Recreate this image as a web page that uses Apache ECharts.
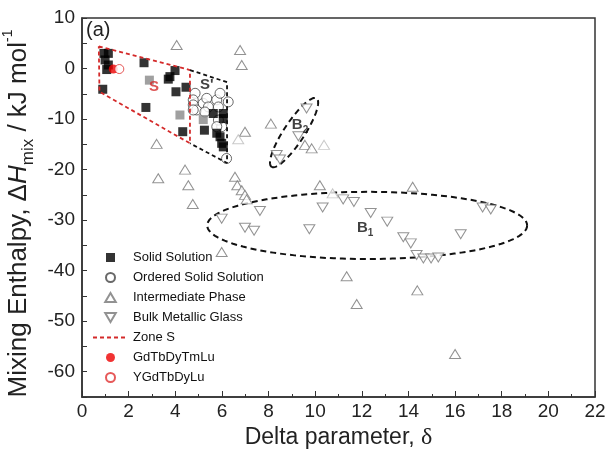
<!DOCTYPE html>
<html>
<head>
<meta charset="utf-8">
<script src="https://cdn.jsdelivr.net/npm/echarts@6/dist/echarts.min.js"></script>
<style>
  html, body { margin: 0; padding: 0; background: #fff; }
  #chart { width: 607px; height: 456px; }
</style>
</head>
<body>
<div id="chart"></div>
<script>
// ---- data (delta parameter, mixing enthalpy in kJ/mol) ----
const solidSolution = [
  [0.94, 3.0], [1.13, 3.0], [0.99, 1.7], [1.13, 0.7], [1.06, -0.2], [0.89, -4.1],
  [2.66, 1.15], [2.74, -7.7], [3.77, -1.6], [3.99, -0.4], [3.70, -2.1], [4.03, -4.6],
  [4.46, -3.7], [4.32, -12.5], [5.25, -12.2], [5.63, -8.9], [6.06, -8.9], [6.06, -9.9],
  [5.78, -12.8], [5.92, -13.5], [5.99, -14.8], [6.06, -15.5]
];
const solidSolutionGrey = [[2.89, -2.3], [4.2, -9.2], [5.2, -10.1]];
const orderedSolidSolution = [
  [4.85, -4.9], [4.77, -6.2], [4.77, -7.2], [4.92, -8.2], [5.2, -6.9], [5.35, -5.9],
  [5.42, -7.6], [5.27, -8.6], [5.78, -6.2], [5.92, -4.9], [5.85, -7.6], [6.27, -6.6],
  [5.99, -11.5], [6.2, -17.8], [4.77, -8.2], [5.85, -10.2], [5.78, -11.5]
];
const intermediatePhase = [
  [4.06, 4.65], [6.78, 3.66], [6.85, 0.7], [8.1, -10.9], [6.99, -12.5], [3.2, -14.9],
  [4.42, -20.0], [3.27, -21.7], [4.56, -23.1], [4.75, -26.8], [6.56, -21.4], [6.66, -23.1],
  [6.85, -24.1], [6.99, -25.0], [7.06, -25.9], [5.99, -36.3], [10.2, -23.1],
  [11.35, -41.1], [11.78, -46.6], [14.18, -23.4], [14.38, -43.9], [16.0, -56.5],
  [9.56, -15.1], [9.85, -15.8]
];
const intermediatePhaseLight = [[6.7, -14.0], [10.75, -24.7], [10.38, -15.1]];
const bulkMetallicGlass = [
  [5.99, -29.7], [7.63, -28.2], [6.99, -31.5], [7.38, -32.1], [9.63, -7.9], [9.28, -13.4],
  [8.35, -17.1], [8.49, -18.0], [10.32, -27.5], [11.2, -25.9], [11.66, -26.4],
  [12.38, -28.6], [9.75, -31.8], [13.09, -30.3], [13.78, -33.4], [14.1, -34.6],
  [14.35, -36.9], [14.64, -37.6], [14.97, -37.6], [15.28, -37.4], [16.24, -32.8],
  [17.18, -27.5], [17.53, -27.9]
];
const gdTbDyTmLu = [[1.34, -0.1]];
const yGdTbDyLu = [[1.6, -0.1]];

// zone outlines
const zoneS = [[0.72, 4.4], [4.63, -0.3], [4.63, -14.8], [0.75, -4.6], [0.72, 4.4]];
const zoneSPrime = [[4.63, -0.3], [6.22, -2.7], [6.22, -18.7], [4.63, -14.8]];
// ellipses: two ends of the long axis, short/long axis ratio (screen space)
const ellipses = [
  { end1: [5.37, -31.05], end2: [19.09, -31.05], ratio: 0.21 },
  { end1: [10.06, -5.9], end2: [8.13, -19.45], ratio: 0.25 }
];
const annotations = [
  { at: [3.09, -3.7], text: '{r|S}' },
  { at: [5.35, -3.3], text: "{k|S'}" },
  { at: [9.35, -11.2], text: '{k|B}{sub|2}' },
  { at: [12.14, -31.6], text: '{k|B}{sub|1}' }
];

const xTicks = { min: 0, max: 22, step: 2 };
const yTicks = { min: -65, max: 10, step: 5 };

const FONT = 'Liberation Sans, Arial, sans-serif';
const upTri = 'path://M5,0 L10,8.5 L0,8.5 Z';
const downTri = 'path://M0,0 L10,0 L5,8.5 Z';
const squareIcon = 'path://M0,0 L10,0 L10,10 L0,10 Z';

const chart = echarts.init(document.getElementById('chart'), null, { renderer: 'canvas' });

const openStyle = (stroke) => ({ color: '#fff', borderColor: stroke, borderWidth: 1 });

chart.setOption({
  animation: false,
  backgroundColor: '#fff',
  grid: {
    left: 82, right: 12, top: 18, bottom: 59,
    containLabel: false, outerBoundsMode: 'none',
    show: true, borderColor: '#333', borderWidth: 1.5
  },
  xAxis: {
    type: 'value', min: xTicks.min, max: xTicks.max, interval: xTicks.step,
    name: '{a|Delta parameter, }{d|δ}', nameLocation: 'middle', nameGap: 29,
    nameTextStyle: {
      rich: {
        a: { fontFamily: FONT, fontSize: 23, color: '#222' },
        d: { fontFamily: 'Liberation Serif, serif', fontSize: 24, color: '#222' }
      }
    },
    axisLine: { onZero: false, lineStyle: { color: '#333', width: 1.5 } },
    axisTick: { inside: true, length: 6, lineStyle: { color: '#333' } },
    minorTick: { show: true, splitNumber: 2, length: 3, lineStyle: { color: '#333' } },
    axisLabel: { fontFamily: FONT, fontSize: 19, color: '#222', margin: 5 },
    splitLine: { show: false }
  },
  yAxis: {
    type: 'value', min: yTicks.min, max: yTicks.max, interval: yTicks.step,
    name: '{a|Mixing Enthalpy, Δ}{i|H}{s|mix}{a| / kJ mol}{p|-1}',
    nameLocation: 'middle', nameGap: 42, nameRotate: 90,
    nameTextStyle: {
      padding: [0, 12, 0, 0],
      rich: {
        a: { fontFamily: FONT, fontSize: 26, color: '#222', lineHeight: 26 },
        i: { fontFamily: FONT, fontSize: 26, color: '#222', fontStyle: 'italic', lineHeight: 26 },
        s: { fontFamily: FONT, fontSize: 17, color: '#222', verticalAlign: 'bottom', lineHeight: 35 },
        p: { fontFamily: FONT, fontSize: 14, color: '#222', verticalAlign: 'top', lineHeight: 16 }
      }
    },
    axisLine: { onZero: false, lineStyle: { color: '#333', width: 1.5 } },
    axisTick: { inside: true, length: 5, lineStyle: { color: '#333' } },
    axisLabel: {
      fontFamily: FONT, fontSize: 19, color: '#222', margin: 7,
      formatter: (v) => (v % 10 === 0 ? String(v) : '')
    },
    splitLine: { show: false }
  },
  legend: {
    orient: 'vertical', left: 87, top: 246,
    itemWidth: 35, itemHeight: 9, itemGap: 7,
    textStyle: { fontFamily: FONT, fontSize: 13, color: '#111' },
    data: [
      { name: 'Solid Solution', icon: squareIcon },
      'Ordered Solid Solution', 'Intermediate Phase', 'Bulk Metallic Glass',
      { name: 'Zone S', itemStyle: { opacity: 0 } },
      'GdTbDyTmLu', 'YGdTbDyLu'
    ]
  },
  graphic: [
    { type: 'text', left: 86, top: 20, style: { text: '(a)', fontFamily: FONT, fontSize: 20, fill: '#222' } }
  ],
  series: [
    {
      type: 'custom', name: 'ellipses', silent: true,
      data: ellipses.map((e) => e.end1),
      renderItem: (params, api) => {
        const e = ellipses[params.dataIndex];
        const p1 = api.coord(e.end1), p2 = api.coord(e.end2);
        const cx = (p1[0] + p2[0]) / 2, cy = (p1[1] + p2[1]) / 2;
        const dx = (p2[0] - p1[0]) / 2, dy = (p2[1] - p1[1]) / 2;
        const a = Math.hypot(dx, dy), b = a * e.ratio;
        const ux = dx / a, uy = dy / a;
        const pts = [];
        for (let i = 0; i <= 120; i++) {
          const t = (i / 120) * Math.PI * 2;
          const c = Math.cos(t) * a, s = Math.sin(t) * b;
          pts.push([cx + c * ux - s * uy, cy + c * uy + s * ux]);
        }
        return { type: 'polyline', shape: { points: pts },
                 style: { stroke: '#111', lineWidth: 2, lineDash: [6, 4], fill: null } };
      }
    },
    {
      type: 'line', name: 'Zone S', data: zoneS, symbol: 'none',
      lineStyle: { color: '#d42a2a', width: 1.8, type: [4, 3] }, itemStyle: { color: '#d42a2a' }
    },
    {
      type: 'line', name: "S'", data: zoneSPrime, symbol: 'none',
      lineStyle: { color: '#111', width: 1.8, type: [4, 3] }
    },
    {
      type: 'scatter', name: 'Intermediate Phase', symbol: upTri, symbolSize: [11, 9],
      itemStyle: openStyle('#777'),
      data: intermediatePhase.concat(intermediatePhaseLight.map((p) => ({
        value: p, itemStyle: openStyle('#bbb') })))
    },
    {
      type: 'scatter', name: 'Bulk Metallic Glass', symbol: downTri, symbolSize: [11, 9],
      itemStyle: openStyle('#777'), data: bulkMetallicGlass
    },
    {
      type: 'scatter', name: 'Ordered Solid Solution', symbol: 'circle', symbolSize: 10,
      itemStyle: openStyle('#444'), data: orderedSolidSolution
    },
    {
      type: 'scatter', name: 'Solid Solution', symbol: 'rect', symbolSize: 9,
      itemStyle: { color: '#000' },
      data: solidSolution.concat(solidSolutionGrey.map((p) => ({
        value: p, itemStyle: { color: '#888' } })))
    },
    {
      type: 'scatter', name: 'GdTbDyTmLu', symbol: 'circle', symbolSize: 9,
      itemStyle: { color: '#e00' }, data: gdTbDyTmLu
    },
    {
      type: 'scatter', name: 'YGdTbDyLu', symbol: 'circle', symbolSize: 9,
      itemStyle: openStyle('#e03030'), data: yGdTbDyLu
    },
    {
      type: 'scatter', name: 'labels', silent: true, symbolSize: 0,
      data: annotations.map((a) => ({ value: a.at, label: { formatter: a.text } })),
      label: {
        show: true, position: 'inside',
        rich: {
          r: { fontFamily: FONT, fontSize: 15, fontWeight: 'bold', color: '#d42a2a' },
          k: { fontFamily: FONT, fontSize: 15, fontWeight: 'bold', color: '#111', lineHeight: 15 },
          sub: { fontFamily: FONT, fontSize: 10, fontWeight: 'bold', color: '#111', verticalAlign: 'bottom', lineHeight: 21 }
        }
      }
    }
  ]
});
</script>
</body>
</html>
